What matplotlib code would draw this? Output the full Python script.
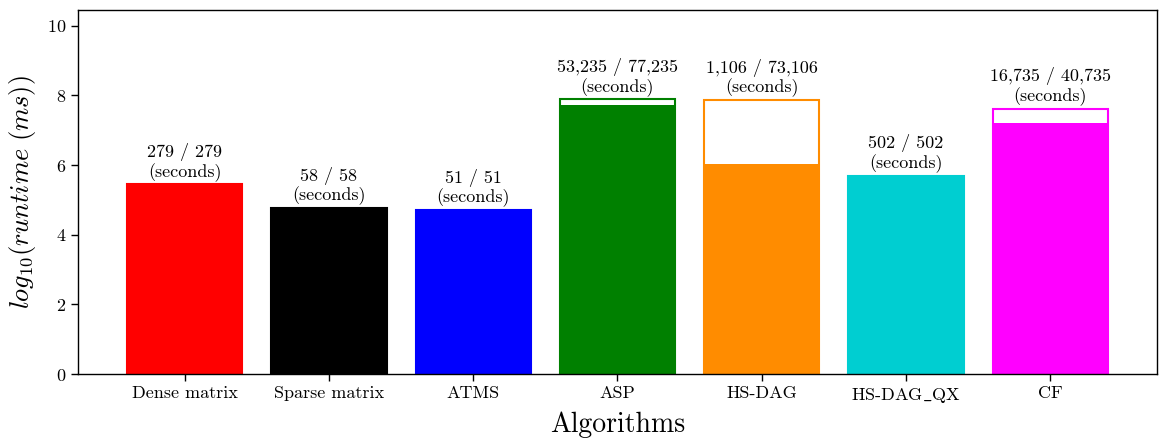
import numpy as np
import matplotlib
matplotlib.use("Agg")
import matplotlib.pyplot as plt

plt.rcParams['font.family'] = 'cmr10'
plt.rcParams['mathtext.fontset'] = 'cm'
plt.rcParams['axes.unicode_minus'] = False
plt.rcParams['axes.formatter.use_mathtext'] = True

# runtimes in seconds: (first result / total)
algorithms = ["Dense matrix", "Sparse matrix", "ATMS", "ASP", "HS-DAG", "HS-DAG$\\_$QX", "CF"]
first_sec = [279, 58, 51, 53235, 1106, 502, 16735]
total_sec = [279, 58, 51, 77235, 73106, 502, 40735]
colors = ["red", "black", "blue", "green", "darkorange", "darkturquoise", "magenta"]

first_log = np.log10(np.array(first_sec) * 1000.0)
total_log = np.log10(np.array(total_sec) * 1000.0)
x = np.arange(len(algorithms))

fig = plt.figure(figsize=(11.6, 4.42), dpi=100)
ax = fig.add_axes([0.0672, 0.1538, 0.9302, 0.8232])

# outer bar = total runtime (outline), inner bar = first result (filled)
ax.bar(x, total_log, width=0.8, facecolor="white", edgecolor=colors, linewidth=1.5)
ax.bar(x, first_log, width=0.8, color=colors, linewidth=0)

for xi, top, a, b in zip(x, total_log, first_sec, total_sec):
    ax.text(xi, top + 0.08, f"{a:,} / {b:,}\n(seconds)", ha="center", va="bottom",
            fontsize=13, linespacing=1.15)

ax.set_xlim(-0.74, 6.74)
ax.set_ylim(0, 10.45)
ax.set_yticks([0, 2, 4, 6, 8, 10])
ax.set_xticks(x)
ax.set_xticklabels(algorithms, fontsize=13)
ax.tick_params(axis="y", labelsize=13)
ax.tick_params(length=5, width=1.0)
for s in ax.spines.values():
    s.set_linewidth(1.0)

ax.set_xlabel("Algorithms", fontsize=20, labelpad=5)
ax.set_ylabel(r"$log_{10}(runtime\ (ms))$", fontsize=19, labelpad=6)

fig.savefig("out.png", dpi=100)
